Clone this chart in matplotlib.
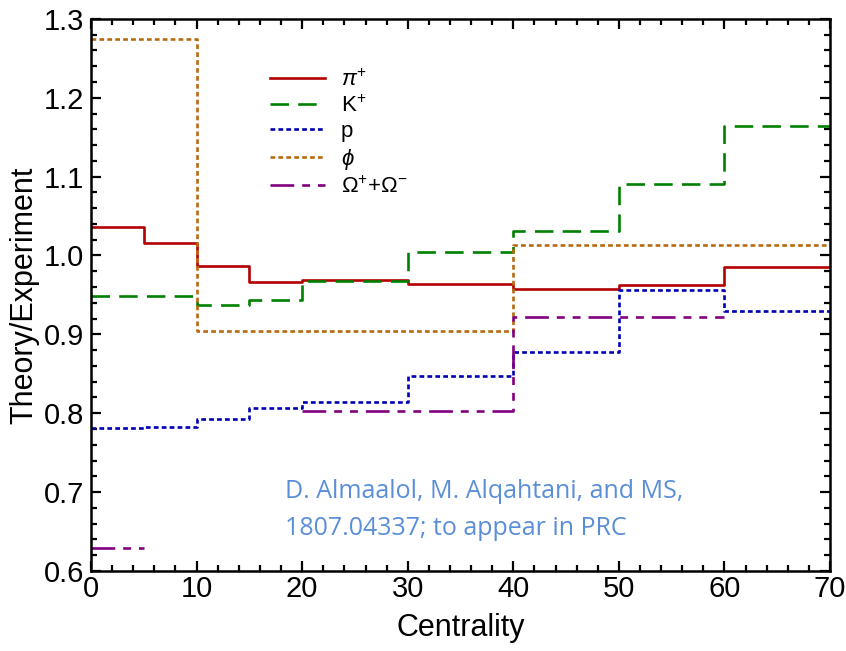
import numpy as np
import matplotlib
matplotlib.use("Agg")
import matplotlib.pyplot as plt
from matplotlib.ticker import MultipleLocator

plt.rcParams['font.family'] = ['Liberation Sans', 'DejaVu Sans']
plt.rcParams['mathtext.fontset'] = 'custom'
plt.rcParams['mathtext.rm'] = 'Liberation Sans'
plt.rcParams['mathtext.it'] = 'Liberation Sans:italic'

# centrality bin edges (%)
edges = [0, 5, 10, 15, 20, 30, 40, 50, 60, 70]

# theory/experiment ratio per bin
pion   = [1.036, 1.016, 0.987, 0.966, 0.969, 0.964, 0.957, 0.963, 0.986]
kaon   = [0.948, 0.949, 0.937, 0.943, 0.967, 1.004, 1.031, 1.090, 1.164]
proton = [0.781, 0.783, 0.793, 0.807, 0.814, 0.847, 0.878, 0.956, 0.929]
phi    = [1.275, 1.275, 0.904, 0.904, 0.904, 0.904, 1.013, 1.013, 1.013]
omega  = [0.629, np.nan, np.nan, np.nan, 0.803, 0.803, 0.922, 0.922, np.nan]

labels = [r'$\pi^{+}$', r'K$^{+}$', 'p', r'$\phi$', r'$\Omega^{+}$+$\Omega^{-}$']


def steps(edges, vals):
    x = np.repeat(edges, 2)[1:-1]
    y = np.repeat(np.array(vals, dtype=float), 2)
    return x, y


fig = plt.figure(figsize=(8.46, 6.51), dpi=100)
ax = fig.add_axes([0.1076, 0.123, 0.8735, 0.848])

lw = 1.9
styles = [
    dict(color='#b30000', ls='-'),
    dict(color='#008000', dashes=(7, 3.5)),
    dict(color='#0000b3', dashes=(1.8, 1.2)),
    dict(color='#b86a10', dashes=(1.8, 1.2)),
    dict(color='#800080', dashes=(9, 3, 3, 3, 3, 3)),
]
series = [pion, kaon, proton, phi, omega]

handles = []
for vals, st, lab in zip(series, styles, labels):
    x, y = steps(edges, vals)
    h, = ax.plot(x, y, lw=lw, label=lab, **st)
    handles.append(h)

ax.set_xlim(0, 70)
ax.set_ylim(0.6, 1.3)
ax.xaxis.set_major_locator(MultipleLocator(10))
ax.xaxis.set_minor_locator(MultipleLocator(2))
ax.yaxis.set_major_locator(MultipleLocator(0.1))
ax.yaxis.set_minor_locator(MultipleLocator(0.02))
ax.yaxis.set_major_formatter(matplotlib.ticker.FormatStrFormatter('%.1f'))
ax.tick_params(which='both', direction='in', top=True, right=True, width=1.6,
               labelsize=21)
ax.tick_params(axis='x', pad=3)
ax.tick_params(axis='y', pad=5)
ax.tick_params(which='major', length=7)
ax.tick_params(which='minor', length=4)
for s in ax.spines.values():
    s.set_linewidth(1.8)

ax.set_xlabel('Centrality', fontsize=22, labelpad=7)
ax.set_ylabel('Theory/Experiment', fontsize=22, labelpad=3)

ax.legend(handles=handles, loc='upper left', bbox_to_anchor=(0.215, 0.945),
          frameon=False, fontsize=16, handlelength=2.5, labelspacing=0.2,
          handletextpad=0.7)

ax.text(18.4, 0.716, 'D. Almaalol, M. Alqahtani, and MS,\n1807.04337; to appear in PRC',
        color='#5a8fd8', fontsize=18, family='Open Sans', va='top', ha='left',
        linespacing=1.6)

fig.savefig('out.png', dpi=100)
